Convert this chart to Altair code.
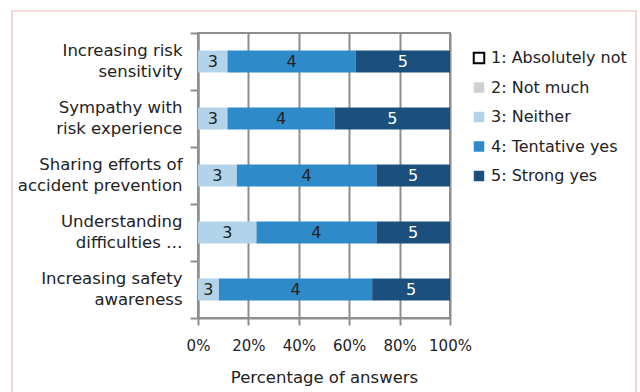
import altair as alt
import pandas as pd

# ---- data ----
categories = [
    "Increasing risk|sensitivity",
    "Sympathy with|risk experience",
    "Sharing efforts of|accident prevention",
    "Understanding|difficulties …",
    "Increasing safety|awareness",
]
responses = ["1: Absolutely not", "2: Not much", "3: Neither", "4: Tentative yes", "5: Strong yes"]
codes = ["1", "2", "3", "4", "5"]
absolutely_not = [0, 0, 0, 0, 0]
not_much = [0, 0, 0, 0, 0]
neither = [11.7, 11.7, 15.4, 23.2, 8.3]
tentative_yes = [50.8, 42.5, 55.4, 47.6, 60.8]
strong_yes = [37.5, 45.8, 29.2, 29.2, 30.9]

series = [absolutely_not, not_much, neither, tentative_yes, strong_yes]
fill_colors = ["white", "#d0d0d0", "#b3d3eb", "#2e8ac9", "#1b4f7d"]
stroke_colors = ["black", "transparent", "transparent", "transparent", "transparent"]
text_colors = ["#222222", "#222222", "#222222", "#222222", "white"]

rows = []
for i, cat in enumerate(categories):
    for j, resp in enumerate(responses):
        v = series[j][i]
        if v > 0:
            rows.append({"cat": cat, "resp": resp, "code": codes[j], "order": j, "pct": v,
                         "tcol": text_colors[j]})
df = pd.DataFrame(rows)

FONT = "DejaVu Sans"
GRID = "#8e8e8e"

base = alt.Chart(df).transform_stack(
    stack="pct", as_=["x0", "x1"], groupby=["cat"], sort=[alt.SortField("order")]
).transform_calculate(mid="(datum.x0 + datum.x1) / 2")

y_enc = alt.Y(
    "cat:N",
    sort=categories,
    title=None,
    scale=alt.Scale(paddingInner=0, paddingOuter=0),
    axis=alt.Axis(
        labelExpr="split(datum.label, '|')",
        labelFontSize=16.5,
        labelLineHeight=21,
        labelFont=FONT,
        labelColor="#222222",
        labelPadding=8,
        labelOffset=-11,
        tickBand="extent",
        tickSize=8,
        tickWidth=2,
        tickColor=GRID,
        domainColor=GRID,
        domainWidth=2,
        grid=False,
    ),
)

legend_def = alt.Legend(
    orient="none",
    legendX=273,
    legendY=17,
    symbolType="square",
    symbolSize=110,
    symbolStrokeWidth=2,
    labelFont=FONT,
    labelFontSize=16,
    labelColor="#222222",
    labelOffset=4,
    rowPadding=9.5,
    padding=0,
)

bars = base.mark_bar(size=22, strokeWidth=2).encode(
    x=alt.X(
        "x0:Q",
        scale=alt.Scale(domain=[0, 100], nice=False),
        title="Percentage of answers",
        axis=alt.Axis(
            values=[0, 20, 40, 60, 80, 100],
            labelExpr="datum.value + '%'",
            labelOverlap=False,
            labelFlush=False,
            labelFont=FONT,
            labelFontSize=15,
            labelColor="#222222",
            labelPadding=13,
            tickSize=7,
            tickWidth=2,
            tickColor=GRID,
            domainColor=GRID,
            domainWidth=2,
            grid=True,
            gridColor=GRID,
            gridWidth=2,
            titleFont=FONT,
            titleFontSize=16.5,
            titleFontWeight="normal",
            titleColor="#222222",
            titlePadding=16,
        ),
    ),
    x2="x1:Q",
    y=y_enc,
    fill=alt.Fill(
        "resp:N",
        scale=alt.Scale(domain=responses, range=fill_colors),
        title=None,
        legend=legend_def,
    ),
    stroke=alt.Stroke(
        "resp:N",
        scale=alt.Scale(domain=responses, range=stroke_colors),
        title=None,
        legend=legend_def,
    ),
)

labels = base.mark_text(font=FONT, fontSize=16, baseline="middle", align="center").encode(
    x=alt.X("mid:Q"),
    y=alt.Y("cat:N", sort=categories),
    text="code:N",
    color=alt.Color("tcol:N", scale=None, legend=None),
)

frame = alt.Chart(pd.DataFrame({"k": [0]})).mark_rect(
    fill=None, stroke="#f2b4b4", strokeWidth=1.2
).encode(
    x=alt.value(-186), x2=alt.value(438), y=alt.value(-22), y2=alt.value(400)
)

chart = alt.layer(frame, bars, labels).properties(
    width=252,
    height=285,
    padding={"left": 198, "top": 33, "right": 190, "bottom": 74},
    autosize=alt.AutoSizeParams(type="none"),
    background="white",
).configure_view(stroke=GRID, strokeWidth=2)

chart.save("out.html", embed_options={"renderer": "svg", "actions": False})
